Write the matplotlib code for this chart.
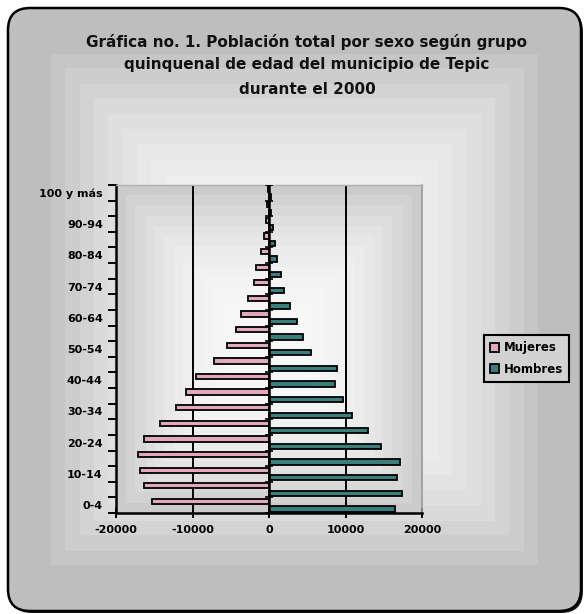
import numpy as np
import matplotlib
matplotlib.use('Agg')
import matplotlib.pyplot as plt
from matplotlib.patches import FancyBboxPatch

# ---------------- data ----------------
age_groups = ["0-4", "5-9", "10-14", "15-19", "20-24", "25-29", "30-34",
              "35-39", "40-44", "45-49", "50-54", "55-59", "60-64", "65-69",
              "70-74", "75-79", "80-84", "85-89", "90-94", "95-99", "100 y más"]
mujeres = [15300, 16400, 16800, 17100, 16400, 14200, 12200, 10800, 9500, 7200,
           5500, 4300, 3600, 2800, 1900, 1700, 1000, 600, 350, 200, 150]
hombres = [16500, 17400, 16700, 17100, 14600, 12900, 10900, 9700, 8600, 8900,
           5500, 4400, 3600, 2700, 1900, 1600, 1000, 800, 500, 300, 200]
x_ticks = [-20000, -10000, 0, 10000, 20000]
series_names = ["Mujeres", "Hombres"]
title_lines = ["Gráfica no. 1. Población total por sexo según grupo",
               "quinquenal de edad del municipio de Tepic",
               "durante el 2000"]

# ---------------- styling ----------------
W, H = 585, 614
FONT = "DejaVu Sans"
col_muj = "#e2aab9"
col_hom = "#3a7f7b"

fig = plt.figure(figsize=(W / 100, H / 100), dpi=100)
fig.patch.set_facecolor("white")

# chart-area background with rounded frame and rectangular gradient
bg = fig.add_axes([0, 0, 1, 1], zorder=-10)
bg.set_axis_off()
x0, y0, x1, y1 = 8, 8, 581, 611
shadow = FancyBboxPatch((x0 + 2, y0 + 2), x1 - x0, y1 - y0,
                        boxstyle="round,pad=0,rounding_size=22",
                        fc="#1a1a1a", ec="none", zorder=0)
bg.add_patch(shadow)
frame = FancyBboxPatch((x0, y0), x1 - x0, y1 - y0,
                       boxstyle="round,pad=0,rounding_size=22",
                       fc="none", ec="black", lw=1.8, zorder=3)
bg.add_patch(frame)
gx = np.linspace(x0, x1, 400)
gy = np.linspace(y0, y1, 420)
X, Y = np.meshgrid(gx, gy)
cx, cy = (x0 + x1) / 2, (y0 + y1) / 2
t = np.maximum(np.abs(X - cx) / ((x1 - x0) / 2), np.abs(Y - cy) / ((y1 - y0) / 2))
tq = np.floor(t * 20) / 20
cimg = (246 - 56 * np.minimum(1, tq / 0.85) ** 2.5) / 255
im = bg.imshow(cimg, cmap="gray", vmin=0, vmax=1, extent=[x0, x1, y1, y0],
               zorder=1, interpolation="nearest", aspect="auto")
im.set_clip_path(frame)
bg.set_xlim(0, W)
bg.set_ylim(H, 0)

# title
title_y = [42, 65, 90]
for line, yy in zip(title_lines, title_y):
    fig.text(307 / W, 1 - yy / H, line, ha="center", va="center",
             fontsize=11, fontweight="bold", family=FONT, color="#111111")

# plot area
ax = fig.add_axes([116 / W, 1 - 513 / H, 306 / W, 328 / H])
ax.patch.set_alpha(0)
px = np.linspace(-1, 1, 300)
py = np.linspace(-1, 1, 320)
PX, PY = np.meshgrid(px, py)
pt = np.maximum(np.abs(PX), np.abs(PY))
ptq = np.floor(pt * 16) / 16
pimg = (247 - 52 * ptq ** 2.5) / 255
ax.imshow(pimg, cmap="gray", vmin=0, vmax=1, extent=[0, 1, 0, 1],
          transform=ax.transAxes, aspect="auto", zorder=0, interpolation="nearest")

ypos = np.arange(len(age_groups))
bh = 0.34
off = 0.24
b1 = ax.barh(ypos + off, -np.array(mujeres), height=bh, color=col_muj,
             edgecolor="black", linewidth=1.3, zorder=3)
b2 = ax.barh(ypos - off, np.array(hombres), height=bh, color=col_hom,
             edgecolor="black", linewidth=1.3, zorder=3)

for gxv in [-10000, 10000]:
    ax.axvline(gxv, color="black", lw=1.4, zorder=2)
ax.axvline(0, color="black", lw=1.8, zorder=4)
bounds = np.arange(-0.5, len(age_groups), 1.0)
ax.plot(np.zeros(len(bounds)), bounds, linestyle="none", marker="_",
        markersize=6, color="black", mew=1.2, zorder=4)

ax.set_xlim(-20000, 20000)
ax.set_ylim(-0.5, len(age_groups) - 0.5)

ax.set_xticks(x_ticks)
ax.set_xticklabels([str(v) for v in x_ticks])
ax.tick_params(axis="x", direction="inout", length=7, width=1.4, pad=5,
               labelsize=8)
ax.set_yticks(bounds)
ax.set_yticklabels([])
ax.tick_params(axis="y", which="major", direction="out", length=6, width=1.4)
ax.set_yticks(ypos[::2], minor=True)
ax.set_yticklabels(age_groups[::2], minor=True)
ax.tick_params(axis="y", which="minor", length=0, pad=9.5, labelsize=8)
for lab in ax.get_xticklabels() + ax.get_yticklabels(minor=True):
    lab.set_fontweight("bold")
    lab.set_family(FONT)

ax.spines["left"].set_linewidth(1.8)
ax.spines["bottom"].set_linewidth(1.8)
ax.spines["right"].set_color("#9a9a9a")
ax.spines["right"].set_linewidth(1.2)
ax.spines["top"].set_color("#b0b0b0")
ax.spines["top"].set_linewidth(1.0)

leg = fig.legend([b1, b2], series_names, loc="center",
                 bbox_to_anchor=(526.5 / W, 1 - 358.5 / H),
                 prop={"family": FONT, "weight": "bold", "size": 8.5},
                 frameon=True, fancybox=False, handlelength=0.8,
                 handleheight=0.8, handletextpad=0.4, labelspacing=0.7,
                 borderpad=0.5, borderaxespad=0)
leg.get_frame().set_facecolor("#d2d2d2")
leg.get_frame().set_edgecolor("black")
leg.get_frame().set_linewidth(1.5)
leg.get_frame().set_alpha(1)

fig.savefig("out.png", dpi=100)
